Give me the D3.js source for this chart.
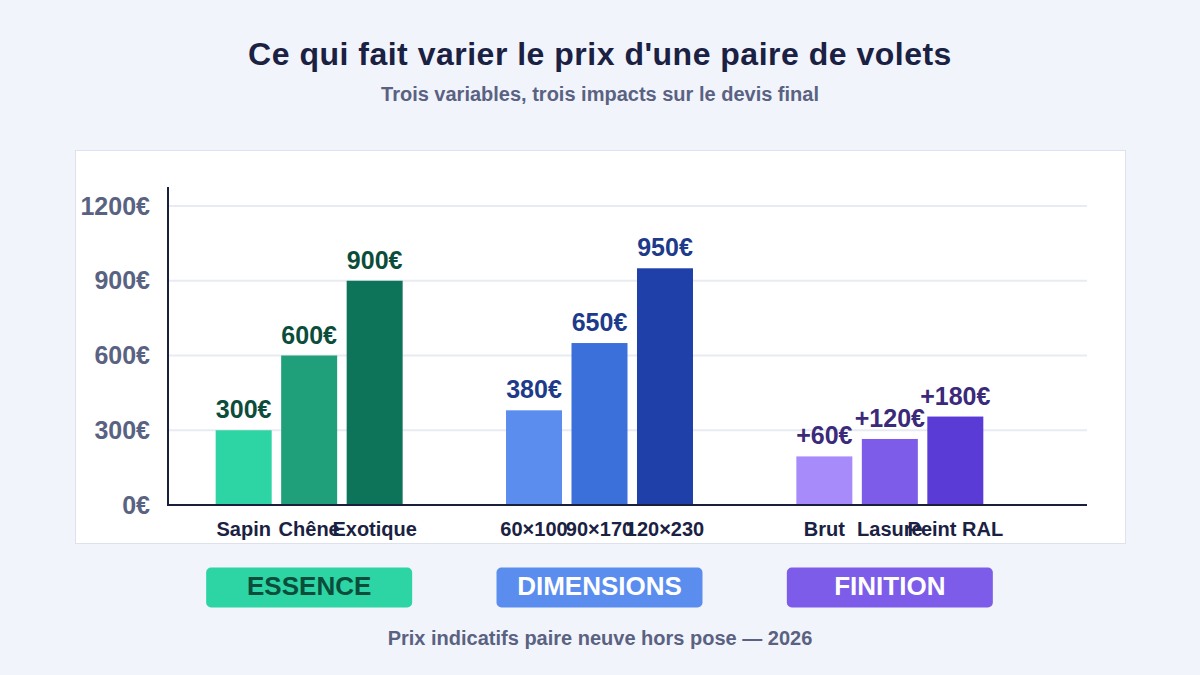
<!DOCTYPE html>
<html lang="fr">
    <head>
        <meta charset="utf-8">
        <title>Prix volets</title>
        <script type="text/javascript" src="https://d3js.org/d3.v7.min.js"></script>
        <style type="text/css">
            body {
              margin: 0;
              background: #f2f4fb;
              font-family: "Liberation Sans", "Arial", sans-serif;
            }
        </style>
    </head>
    <body>
        <script type="text/javascript">

        const width = 1200;
        const height = 675;

        //Data
        const groups = ["ESSENCE", "DIMENSIONS", "FINITION"];
        const essenceLabels = ["Sapin", "Chêne", "Exotique"];
        const essenceValues = [300, 600, 900];
        const essenceTexts = ["300€", "600€", "900€"];
        const dimensionLabels = ["60×100", "90×170", "120×230"];
        const dimensionValues = [380, 650, 950];
        const dimensionTexts = ["380€", "650€", "950€"];
        const finitionLabels = ["Brut", "Lasure", "Peint RAL"];
        const finitionValues = [195, 265, 355];
        const finitionTexts = ["+60€", "+120€", "+180€"];
        const yTicks = [0, 300, 600, 900, 1200];

        const series = [
            {group: "ESSENCE", labels: essenceLabels, values: essenceValues, texts: essenceTexts,
             colors: ["#2dd4a4", "#20a07a", "#0e7459"], textColor: "#0b4d3a",
             box: "#2dd4a4", boxText: "#0b4d3a"},
            {group: "DIMENSIONS", labels: dimensionLabels, values: dimensionValues, texts: dimensionTexts,
             colors: ["#5b8def", "#3b6fd9", "#1e40a8"], textColor: "#1e3a8a",
             box: "#5b8def", boxText: "#ffffff"},
            {group: "FINITION", labels: finitionLabels, values: finitionValues, texts: finitionTexts,
             colors: ["#a78bfa", "#7c5ce8", "#5a3bd6"], textColor: "#3b2a7a",
             box: "#7c5ce8", boxText: "#ffffff"}
        ];

        //Scales
        const x0 = d3.scaleBand()
                    .domain(groups)
                    .range([164, 1035])
                    .paddingInner(0.356)
                    .paddingOuter(0.178);

        const x1 = d3.scaleBand()
                    .domain([0, 1, 2])
                    .range([0, x0.bandwidth()])
                    .paddingInner(0.145);

        const yScale = d3.scaleLinear()
                    .domain([0, 1200])
                    .range([505, 206]);

        //SVG
        const svg = d3.select("body")
                    .append("svg")
                    .attr("width", width)
                    .attr("height", height);

        //Titles
        svg.append("text")
            .attr("x", 600).attr("y", 65)
            .attr("text-anchor", "middle")
            .attr("font-size", 32).attr("font-weight", "bold")
            .attr("letter-spacing", 0.5)
            .attr("fill", "#1a2142")
            .text("Ce qui fait varier le prix d'une paire de volets");

        svg.append("text")
            .attr("x", 600).attr("y", 101)
            .attr("text-anchor", "middle")
            .attr("font-size", 20).attr("font-weight", "bold")
            .attr("fill", "#5a6282")
            .text("Trois variables, trois impacts sur le devis final");

        //Panel
        svg.append("rect")
            .attr("x", 75.5).attr("y", 150.5)
            .attr("width", 1050).attr("height", 393)
            .attr("fill", "#ffffff")
            .attr("stroke", "#dde2ec");

        //Grid
        svg.append("g")
            .selectAll("line")
            .data(yTicks.slice(1))
            .enter()
            .append("line")
            .attr("x1", 168).attr("x2", 1087)
            .attr("y1", d => yScale(d)).attr("y2", d => yScale(d))
            .attr("stroke", "#e8ebf2")
            .attr("stroke-width", 2);

        //Y axis
        const leftAxis = d3.axisLeft()
                    .scale(yScale)
                    .tickValues(yTicks)
                    .tickSize(0)
                    .tickPadding(18)
                    .tickFormat(d => d + "€");

        const yG = svg.append("g")
            .attr("transform", "translate(168,0)")
            .call(leftAxis);
        yG.select(".domain").remove();
        yG.selectAll("text")
            .attr("font-family", "Liberation Sans, Arial, sans-serif")
            .attr("font-size", 25).attr("font-weight", "bold")
            .attr("fill", "#5a6282");

        //Bars
        series.forEach(s => {
            const g = svg.append("g")
                .attr("transform", "translate(" + x0(s.group) + ",0)");

            const idx = s.values.map((v, i) => i);

            g.selectAll("rect")
                .data(idx)
                .enter()
                .append("rect")
                .attr("x", i => x1(i))
                .attr("y", i => yScale(s.values[i]))
                .attr("width", x1.bandwidth())
                .attr("height", i => 505 - yScale(s.values[i]))
                .attr("fill", i => s.colors[i]);

            g.selectAll("text.val")
                .data(idx)
                .enter()
                .append("text")
                .attr("class", "val")
                .attr("x", i => x1(i) + x1.bandwidth() / 2)
                .attr("y", i => yScale(s.values[i]) - 12)
                .attr("text-anchor", "middle")
                .attr("font-size", 25).attr("font-weight", "bold")
                .attr("fill", s.textColor)
                .text(i => s.texts[i]);

            const bottomAxis = d3.axisBottom()
                .scale(x1)
                .tickSize(0)
                .tickPadding(17)
                .tickFormat(i => s.labels[i]);

            const xG = svg.append("g")
                .attr("transform", "translate(" + x0(s.group) + ",505)")
                .call(bottomAxis);
            xG.select(".domain").remove();
            xG.selectAll("text")
                .attr("font-family", "Liberation Sans, Arial, sans-serif")
                .attr("font-size", 20).attr("font-weight", "bold")
                .attr("fill", "#1a2142");

            //Group box
            const cx = x0(s.group) + x0.bandwidth() / 2;
            svg.append("rect")
                .attr("x", cx - 103).attr("y", 567.5)
                .attr("width", 206).attr("height", 40)
                .attr("rx", 5)
                .attr("fill", s.box);
            svg.append("text")
                .attr("x", cx).attr("y", 595)
                .attr("text-anchor", "middle")
                .attr("font-size", 26).attr("font-weight", "bold")
                .attr("fill", s.boxText)
                .text(s.group);
        });

        //Axes lines
        svg.append("line")
            .attr("x1", 168).attr("x2", 168)
            .attr("y1", 187).attr("y2", 506)
            .attr("stroke", "#1a1f3d").attr("stroke-width", 2);
        svg.append("line")
            .attr("x1", 167).attr("x2", 1087)
            .attr("y1", 505).attr("y2", 505)
            .attr("stroke", "#1a1f3d").attr("stroke-width", 2);

        //Footer
        svg.append("text")
            .attr("x", 600).attr("y", 645)
            .attr("text-anchor", "middle")
            .attr("font-size", 20).attr("font-weight", "bold")
            .attr("fill", "#5a6282")
            .text("Prix indicatifs paire neuve hors pose — 2026");

        </script>
    </body>
</html>
